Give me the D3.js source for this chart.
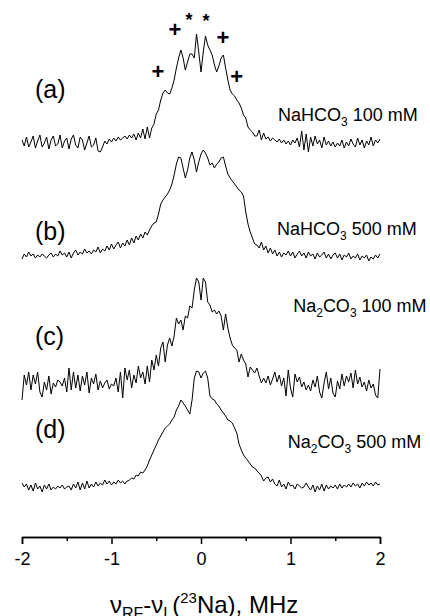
<!DOCTYPE html>
<html>
<head>
<meta charset="utf-8">
<script src="https://cdn.jsdelivr.net/npm/d3@7"></script>
<style>
  body { margin: 0; background: #fff; }
  svg { display: block; font-family: "Liberation Sans", Arial, sans-serif; }
  .trace { fill: none; stroke: #000; stroke-width: 1; stroke-linejoin: round; }
  .axis path, .axis line { stroke: #000; stroke-width: 1.5; }
  .axis text { font-size: 18px; fill: #000; font-family: "Liberation Sans", Arial, sans-serif; }
</style>
</head>
<body>
<script>
// frequency grid, MHz (nu_RF - nu_L), 161 points from -2 to 2
var freq = d3.range(161).map(function(i) { return -2 + i * 0.025; });

// 23Na spectra, arbitrary intensity units relative to each baseline
var specA = [
  3, -3, 6, -4, 1, 7, -5, 2, 8, -4,
  0, 6, -6, 3, 7, -3, -1, 8, -5, 2,
  5, -6, 4, 8, -2, -5, 6, 3, -7, 0,
  7, -4, -2, 5, -8, -9, -4, 2, -1, 4,
  1, 5, 2, 6, 3, 5, 7, 4, 8, 5,
  9, 3, 10, 5, 14, 4, 16, 5,
  15, 19, 29, 33, 43, 50, 53, 50, 49, 55,
  63, 75, 85, 93, 85, 73, 81, 89, 89, 85,
  109, 91, 71, 91, 107, 98, 93, 88, 78, 71,
  77, 85, 88, 75, 63, 53, 49, 47, 43, 40,
  35, 28, 25, 16, 13, 11, 7, 7,
  13, 3, 10, 4, 6, 2, 5, 3, 1, 4,
  0, 3, -1, 2, -2, 3, 0, 5, -4, 12,
  -7, 9, -9, 6, -3, 7, -1, 3, -5, 6,
  -2, 2, -3, 1, -4, 0, -3, 3, -5, 1,
  -3, 4, -1, -4, 5, -2, 3, -5, 2, -2,
  6, -3, 3, 0, 4
];
var specB = [
  -3, 2, -1, 4, 0, 2, -2, 1, -1, 2,
  0, -2, 1, 3, -1, 2, 0, 5, 1, 3,
  -1, 4, -2, 3, 6, 1, 4, 2, 7, 3,
  5, 2, 6, 4, 9, 3, 7, 5, 10, 6,
  12, 7, 11, 14, 8, 13, 10, 16, 11, 18,
  13, 20, 16, 22, 18, 24, 21, 26,
  30, 33, 34, 42, 52, 56, 59, 62, 66, 72,
  81, 92, 99, 98, 88, 78, 86, 98, 104, 96,
  84, 94, 102, 106, 103, 98, 91, 93, 88, 92,
  94, 98, 99, 90, 82, 78, 75, 72, 69, 66,
  64, 60, 44, 32, 24, 18, 12, 11,
  8, 14, 6, 10, 3, 8, 2, 6, 0, 4,
  -1, 3, 1, 5, 0, 4, -2, 2, 5, 0,
  3, -2, 4, 0, 2, -3, 3, -1, 1, 4,
  -2, 2, -3, 1, 3, -2, 2, -4, 1, -1,
  3, -3, 0, -2, 2, -4, 0, -2, 1, -5,
  -1, -3, 1, -2, 2
];
var specC = [
  -14, 11, 1, 14, -4, 11, 2, 14, -6, -11,
  4, -4, 10, -8, 3, -1, 6, 4, 0, 8,
  -6, 18, -4, 14, -2, 11, -5, 10, 1, 14,
  -7, 8, 2, 12, -4, 5, -2, 3, 6, -3,
  2, 0, 8, -6, 14, -12, 18, 6, 16, -2,
  11, 3, 20, 8, 14, 2, 20, 4,
  26, 16, 31, 20, 38, 44, 24, 41, 48, 40,
  50, 68, 62, 66, 56, 70, 68, 80, 78, 96,
  108, 104, 86, 108, 104, 84, 81, 74, 76, 72,
  75, 70, 56, 72, 58, 48, 41, 38, 36, 24,
  32, 26, 22, 9, 19, 16, 13, 18,
  10, 3, 8, 3, 10, 1, 7, 14, 4, 11,
  0, 8, -10, 16, -2, -11, 12, 4, 9, -1,
  4, -4, 1, -5, 6, -1, 10, -6, -12, 3,
  14, -3, 8, -7, -11, 5, -3, 12, 0, 10,
  4, 13, -2, 16, 2, 9, -1, 4, -5, 6,
  -2, 2, -9, -12, 17
];
var specD = [
  5, 1, 4, -2, 3, -3, 5, -1, 2, -4,
  3, -1, 4, -2, 1, -1, 2, 0, 3, -1,
  1, 2, -2, 4, 0, 6, -2, 5, -1, 7,
  0, 4, 1, 6, 2, 5, 3, 8, 4, 7,
  3, 6, 4, 8, 5, 7, 4, 7, 8, 10,
  9, 13, 12, 16, 15, 18, 22, 28,
  33, 38, 43, 48, 52, 56, 60, 62, 64, 68,
  71, 78, 82, 88, 85, 82, 78, 74, 88, 110,
  117, 116, 110, 115, 117, 110, 92, 89, 88, 84,
  82, 78, 75, 72, 68, 67, 65, 60, 55, 44,
  38, 33, 30, 27, 24, 21, 20, 17,
  15, 12, 7, 10, 11, 6, 9, 4, 2, 8,
  1, 4, -1, 6, 2, 3, -1, 4, 2, 0,
  1, 5, 1, -2, 3, -4, 2, -2, 4, -3,
  3, -1, 2, 0, 3, -1, 4, 0, 3, 1,
  4, 1, 5, 2, 4, 0, 5, 2, 6, 3,
  5, 2, 6, 3, 4
];

var spectra = [specA, specB, specC, specD];
var offsets = [394, 281, 151, 49];           // vertical stacking, intensity units
var panelLabels = ["(a)", "(b)", "(c)", "(d)"];
var panelLabelY = [45, 16, 41, 50];          // intensity above each baseline
var sampleSalt = [["NaHCO", null, "O", "3"], ["NaHCO", null, "O", "3"], ["Na", "2", "CO", "3"], ["Na", "2", "CO", "3"]];
var sampleConc = ["100 mM", "500 mM", "100 mM", "500 mM"];
var sampleLabelX = [0.86, 0.85, 1.03, 0.97];  // MHz
var sampleLabelY = [22, 21, 74, 40];
var xTicks = [-2, -1, 0, 1, 2];
var xMinorTicks = [-1.5, -0.5, 0.5, 1.5];

// markers on trace (a): "+" satellites, "*" centre lines
var markSym = ["+", "+", "+", "+", "*", "*"];
var markFreq = [-0.48, -0.29, 0.245, 0.40, -0.135, 0.055];
var markInt = [71, 113, 105, 66, 128, 127];

var width = 430, height = 616;

var xScale = d3.scaleLinear().domain([-2, 2]).range([22, 380]);
var yScale = d3.scaleLinear().domain([0, 500]).range([537, 37]);

var svg = d3.select("body").append("svg")
  .attr("width", width)
  .attr("height", height);

var line = d3.line()
  .x(function(d, i) { return xScale(freq[i]); })
  .y(function(d) { return d; });

spectra.forEach(function(s, k) {
  svg.append("path")
    .attr("class", "trace")
    .attr("d", line(s.map(function(v) { return yScale(v + offsets[k]); })));

  svg.append("text")
    .attr("x", 35)
    .attr("y", yScale(offsets[k] + panelLabelY[k]))
    .attr("font-size", 25)
    .text(panelLabels[k]);

  var t = svg.append("text")
    .attr("x", xScale(sampleLabelX[k]))
    .attr("y", yScale(offsets[k] + sampleLabelY[k]))
    .attr("font-size", 18);
  var salt = sampleSalt[k];
  if (salt[1] === null) {
    t.append("tspan").text("NaHCO");
  } else {
    t.append("tspan").text("Na");
    t.append("tspan").attr("font-size", 12).attr("dy", 5).text(salt[1]);
    t.append("tspan").attr("dy", -5).text("CO");
  }
  t.append("tspan").attr("font-size", 12).attr("dy", 5).text(salt[3]);
  t.append("tspan").attr("dy", -5).text(" " + sampleConc[k]);
});

markSym.forEach(function(s, j) {
  svg.append("text")
    .attr("x", xScale(markFreq[j]))
    .attr("y", yScale(offsets[0] + markInt[j]) + (s === "+" ? 7 : 11))
    .attr("text-anchor", "middle")
    .attr("font-size", s === "+" ? 22 : 18)
    .attr("font-weight", "bold")
    .text(s);
});

// x axis
svg.append("g")
  .attr("class", "axis")
  .attr("transform", "translate(0,537)")
  .call(d3.axisBottom(xScale).tickValues(xMinorTicks).tickSize(4).tickSizeOuter(0).tickFormat(""));

svg.append("g")
  .attr("class", "axis")
  .attr("transform", "translate(0,537)")
  .call(d3.axisBottom(xScale).tickValues(xTicks).tickSize(7).tickPadding(8)
    .tickFormat(function(d) { return d < 0 ? "-" + Math.abs(d) : d; }));

var xl = svg.append("text")
  .attr("x", 110)
  .attr("y", 613)
  .attr("font-size", 24);
xl.append("tspan").text("\u03bd");
xl.append("tspan").attr("font-size", 16).attr("dy", 6).text("RF");
xl.append("tspan").attr("dy", -6).text("-\u03bd");
xl.append("tspan").attr("font-size", 16).attr("dy", 6).text("L");
xl.append("tspan").attr("dy", -6).text("(");
xl.append("tspan").attr("font-size", 15).attr("dy", -10).text("23");
xl.append("tspan").attr("dy", 10).text("Na), MHz");
</script>
</body>
</html>
